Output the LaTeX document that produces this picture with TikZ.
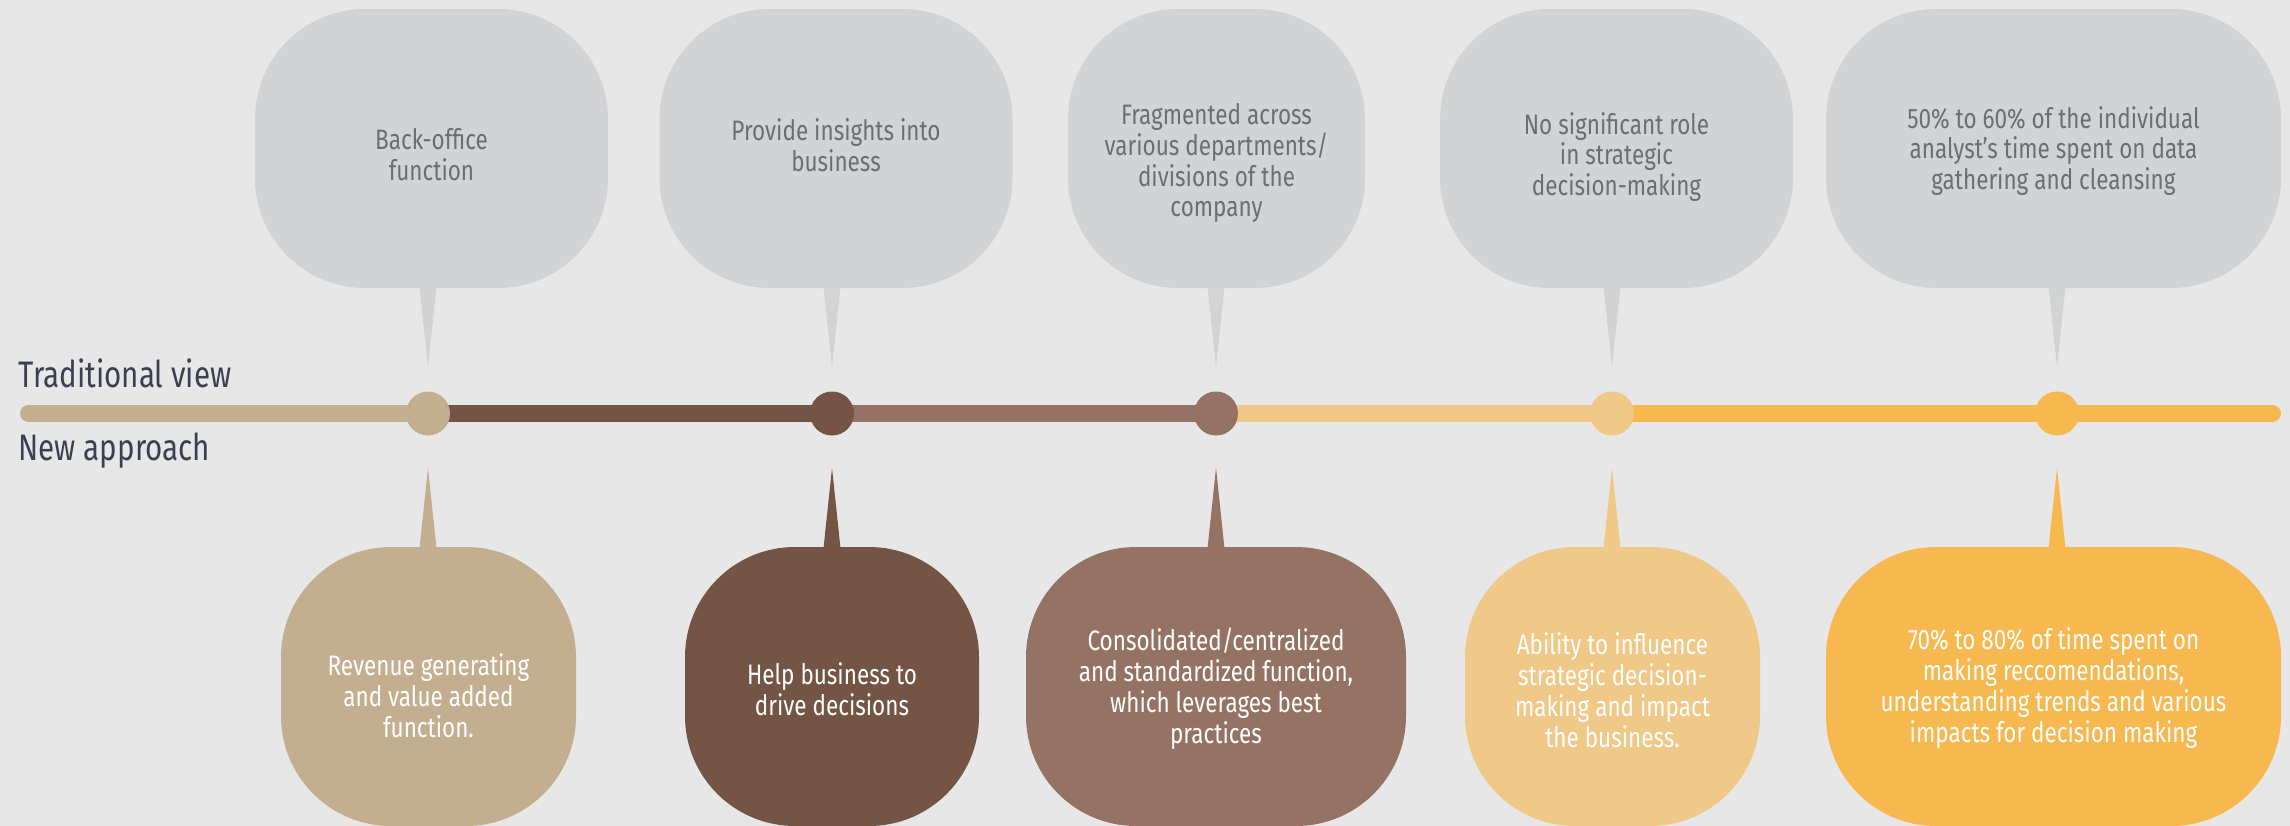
\documentclass[tikz,border=0pt]{standalone}
\usepackage{fontspec}
\setmainfont{Fira Sans}[FakeStretch=0.8]
\usetikzlibrary{positioning}
\pgfdeclarelayer{back}
\pgfsetlayers{back,main}

\definecolor{bggray}{HTML}{E7E7E7}
\definecolor{bubblegray}{HTML}{D2D3D5}
\definecolor{textgray}{HTML}{6D6E70}
\definecolor{labelnavy}{HTML}{3B3F50}
\definecolor{sandtan}{HTML}{C3AF8F}
\definecolor{darkbrown}{HTML}{735445}
\definecolor{midbrown}{HTML}{947364}
\definecolor{lightorange}{HTML}{F0C887}
\definecolor{deeporange}{HTML}{F6B84F}

\begin{document}
\begin{tikzpicture}[bubble/.style = {rounded corners = 1.1cm, minimum height = 2.79cm, inner sep = 0pt},
  oldview/.style = {bubble, fill = bubblegray},
  newview/.style = {bubble},
  bubbletext/.style = {inner sep = 0pt, align = center, font = \fontsize{8}{8.8}\selectfont},
  oldtext/.style = {bubbletext, text = textgray},
  newtext/.style = {bubbletext, text = white},
  stopdot/.style = {circle, minimum size = 0.44cm, inner sep = 0pt},
  viewlabel/.style = {anchor = base west, inner sep = 0pt, text = labelnavy, font = \fontsize{10.5}{12}\selectfont}]
  \begin{pgfonlayer}{back}
    \fill[bggray] (0,0) rectangle (22.9,-8.26);
  \end{pgfonlayer}
  \useasboundingbox (0,0) rectangle (22.9,-8.26);

  % side labels
  \node[viewlabel] (trad) at (0.18,-3.87) {Traditional view};
  \node[viewlabel] (newapp) at (0.18,-4.60) {New approach};

  % stops on the line
  \coordinate (start) at (0.285,-4.135);
  \coordinate (end) at (22.725,-4.135);
  \node[stopdot, fill = sandtan] (d1) at (4.28,-4.135) {};
  \node[stopdot, fill = darkbrown] (d2) at (8.32,-4.135) {};
  \node[stopdot, fill = midbrown] (d3) at (12.16,-4.135) {};
  \node[stopdot, fill = lightorange] (d4) at (16.12,-4.135) {};
  \node[stopdot, fill = deeporange] (d5) at (20.57,-4.135) {};

  \begin{pgfonlayer}{back}
    \draw[line width = 0.17cm, line cap = round, sandtan] (start) -- (d1.center);
    \draw[line width = 0.17cm, darkbrown] (d1.center) -- (d2.center);
    \draw[line width = 0.17cm, midbrown] (d2.center) -- (d3.center);
    \draw[line width = 0.17cm, lightorange] (d3.center) -- (d4.center);
    \draw[line width = 0.17cm, deeporange] (d4.center) -- (d5.center);
    \draw[line width = 0.17cm, line cap = round, deeporange] (d5.center) -- (end);
  \end{pgfonlayer}

  % traditional view
  \node[oldview, minimum width = 3.53cm] (t1) at (4.315,-1.485) {};
  \node[oldview, minimum width = 3.53cm] (t2) at (8.36,-1.485) {};
  \node[oldview, minimum width = 2.97cm] (t3) at (12.165,-1.485) {};
  \node[oldview, minimum width = 3.53cm] (t4) at (16.165,-1.485) {};
  \node[oldview, minimum width = 4.55cm] (t5) at (20.535,-1.485) {};
  \node[oldtext] (t1text) at (4.315,-1.545) {Back-office\\function};
  \node[oldtext] (t2text) at (8.36,-1.455) {Provide insights into\\business};
  \node[oldtext] (t3text) at (12.165,-1.63) {Fragmented across\\various departments/\\divisions of the\\company};
  \node[oldtext] (t4text) at (16.165,-1.57) {No significant role\\in strategic\\decision-making};
  \node[oldtext] (t5text) at (20.535,-1.51) {50\% to 60\% of the individual\\analyst’s time spent on data\\gathering and cleansing};

  % new approach
  \node[newview, fill = sandtan, minimum width = 2.95cm] (n1) at (4.285,-6.865) {};
  \node[newview, fill = darkbrown, minimum width = 2.94cm] (n2) at (8.32,-6.865) {};
  \node[newview, fill = midbrown, minimum width = 3.80cm] (n3) at (12.16,-6.865) {};
  \node[newview, fill = lightorange, minimum width = 2.95cm] (n4) at (16.125,-6.865) {};
  \node[newview, fill = deeporange, minimum width = 4.55cm] (n5) at (20.535,-6.865) {};
  \node[newtext] (n1text) at (4.285,-6.955) {Revenue generating\\and value added\\function.};
  \node[newtext] (n2text) at (8.32,-6.89) {Help business to\\drive decisions};
  \node[newtext] (n3text) at (12.16,-6.89) {Consolidated/centralized\\and standardized function,\\which leverages best\\practices};
  \node[newtext] (n4text) at (16.125,-6.90) {Ability to influence\\strategic decision-\\making and impact\\the business.};
  \node[newtext] (n5text) at (20.535,-6.88) {70\% to 80\% of time spent on\\making reccomendations,\\understanding trends and various\\impacts for decision making};

  % pointers
  \foreach \i/\c in {1/sandtan, 2/darkbrown, 3/midbrown, 4/lightorange, 5/deeporange}{
    \coordinate (tb\i) at (d\i |- t\i.south);
    \coordinate (nb\i) at (d\i |- n\i.north);
    \fill[bubblegray] ([xshift = -0.085cm, yshift = 0.02cm]tb\i) -- ([xshift = 0.085cm, yshift = 0.02cm]tb\i) -- ([yshift = 0.465cm]d\i.center) -- cycle;
    \fill[\c] ([xshift = -0.085cm, yshift = -0.02cm]nb\i) -- ([xshift = 0.085cm, yshift = -0.02cm]nb\i) -- ([yshift = -0.545cm]d\i.center) -- cycle;
  }
\end{tikzpicture}
\end{document}
